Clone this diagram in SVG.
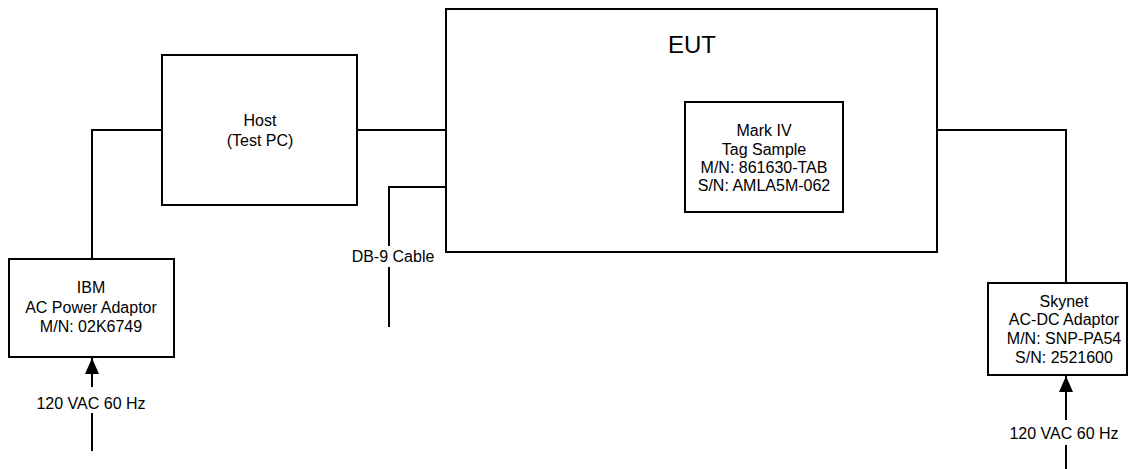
<svg xmlns="http://www.w3.org/2000/svg" width="1130" height="469" viewBox="0 0 1130 469">
<style>
.box{fill:#fff;stroke:#000;stroke-width:2}
.ln{fill:none;stroke:#000;stroke-width:2}
text{font-family:"Liberation Sans",Arial,sans-serif;font-size:16px;fill:#000;text-anchor:middle}
.big{font-size:24px}
</style>
<defs>
<marker id="arrB" markerWidth="16" markerHeight="14" refX="16" refY="7" orient="auto" markerUnits="userSpaceOnUse" viewBox="0 0 16 14">
<path d="M0,0 L16,7 L0,14 z" fill="#000"/>
</marker>
</defs>
<rect width="1130" height="469" fill="#fff"/>
<g id="connectors">
<polyline class="ln" points="162,130 92,130 92,259"/>
<line class="ln" x1="357" y1="130" x2="446" y2="130"/>
<polyline class="ln" points="446,187 389,187 389,246"/>
<line class="ln" x1="389" y1="267" x2="389" y2="327"/>
<polyline class="ln" points="937,130 1066,130 1066,283"/>
<line class="ln" x1="92" y1="451" x2="92" y2="413"/>
<line class="ln" x1="92" y1="387" x2="92" y2="358" marker-end="url(#arrB)"/>
<line class="ln" x1="1066" y1="469" x2="1066" y2="445"/>
<line class="ln" x1="1066" y1="420" x2="1066" y2="376" marker-end="url(#arrB)"/>
<text x="393" y="262">DB-9 Cable</text>
<text x="91" y="409">120 VAC 60 Hz</text>
<text x="1064" y="439">120 VAC 60 Hz</text>
</g>
<g id="host">
<rect class="box" x="162" y="55" width="195" height="150"/>
<text x="260" y="126">Host</text>
<text x="260" y="146">(Test PC)</text>
</g>
<g id="eut">
<rect class="box" x="446" y="9" width="491" height="243"/>
<text class="big" x="692" y="53">EUT</text>
</g>
<g id="markiv">
<rect class="box" x="685" y="102" width="158" height="110"/>
<text x="764" y="136">Mark IV</text>
<text x="764" y="155">Tag Sample</text>
<text x="764" y="173">M/N: 861630-TAB</text>
<text x="764" y="191">S/N: AMLA5M-062</text>
</g>
<g id="ibm">
<rect class="box" x="9" y="259" width="165" height="98"/>
<text x="91" y="293">IBM</text>
<text x="91" y="313">AC Power Adaptor</text>
<text x="91" y="332">M/N: 02K6749</text>
</g>
<g id="skynet">
<rect class="box" x="988" y="283" width="139" height="92"/>
<text x="1064" y="307">Skynet</text>
<text x="1064" y="325">AC-DC Adaptor</text>
<text x="1064" y="344">M/N: SNP-PA54</text>
<text x="1064" y="363">S/N: 2521600</text>
</g>
</svg>
